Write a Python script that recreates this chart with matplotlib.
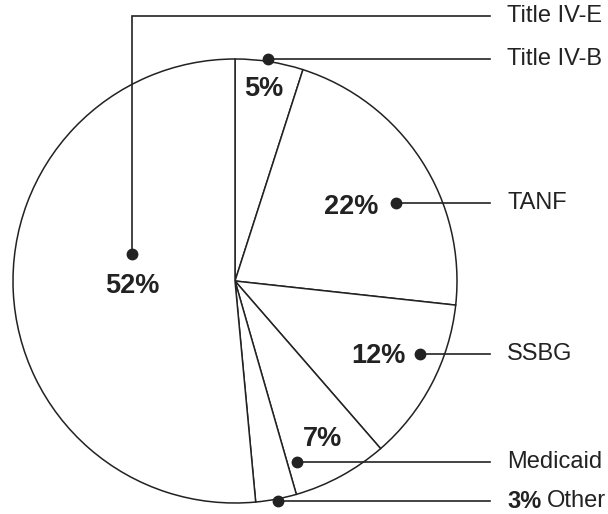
import matplotlib
matplotlib.use("Agg")
import matplotlib.pyplot as plt

# funding sources, clockwise from 12 o'clock
sources = ["Title IV-B", "TANF", "SSBG", "Medicaid", "Other", "Title IV-E"]
shares = [5, 22, 12, 7, 3, 52]
pct_labels = [f"{v}%" for v in shares]

W, H = 608, 514
CENTER = (235, 281)
RADIUS = 222
INK = "#222222"
FONT = "Liberation Sans"

# layout (pixel coords): percent label centers, dot anchors, leader bends
pct_pos = {
    "Title IV-B": (264, 89),
    "TANF": (351, 207),
    "SSBG": (378, 356),
    "Medicaid": (323, 439),
    "Title IV-E": (132, 286),
}
dot_pos = {
    "Title IV-E": (132, 254),
    "Title IV-B": (268, 59),
    "TANF": (396, 203),
    "SSBG": (420, 354),
    "Medicaid": (297, 462),
    "Other": (278, 501),
}
label_y = {
    "Title IV-E": 16,
    "Title IV-B": 59,
    "TANF": 203,
    "SSBG": 354,
    "Medicaid": 462,
    "Other": 501,
}
LINE_END_X = 490
TEXT_X = 507

fig = plt.figure(figsize=(W / 100, H / 100), dpi=100)
ax = fig.add_axes([0, 0, 1, 1])

# y axis is inverted, so counterclock=True draws clockwise on screen
ax.pie(
    shares,
    startangle=-90,
    counterclock=True,
    center=CENTER,
    radius=RADIUS,
    colors=["white"] * len(shares),
    wedgeprops=dict(edgecolor=INK, linewidth=1.1),
)
ax.set_xlim(0, W)
ax.set_ylim(H, 0)
ax.set_aspect("equal")
ax.axis("off")

for name, lab in zip(sources, pct_labels):
    if name in pct_pos:
        x, y = pct_pos[name]
        ax.text(x, y, lab, ha="center", va="center", fontsize=19.5,
                fontweight="bold", family=FONT, color=INK)

for name in sources:
    dx, dy = dot_pos[name]
    ly = label_y[name]
    if dy != ly:
        xs, ys = [dx, dx, LINE_END_X], [dy, ly, ly]
    else:
        xs, ys = [dx, LINE_END_X], [dy, ly]
    ax.plot(xs, ys, color=INK, lw=1.2, solid_joinstyle="miter")
    ax.plot(dx, dy, "o", color=INK, markersize=7.5)

    if name == "Other":
        t = ax.text(TEXT_X, ly, pct_labels[sources.index(name)], ha="left",
                    va="center", fontsize=17, fontweight="bold",
                    family=FONT, color=INK)
        ax.annotate(name, xy=(1, 0.5), xycoords=t, xytext=(4, 0),
                    textcoords="offset points", ha="left", va="center",
                    fontsize=17, family=FONT, color=INK)
    else:
        ax.text(TEXT_X, ly, name, ha="left", va="center", fontsize=17,
                family=FONT, color=INK)

fig.savefig("out.png", dpi=100, facecolor="white")
